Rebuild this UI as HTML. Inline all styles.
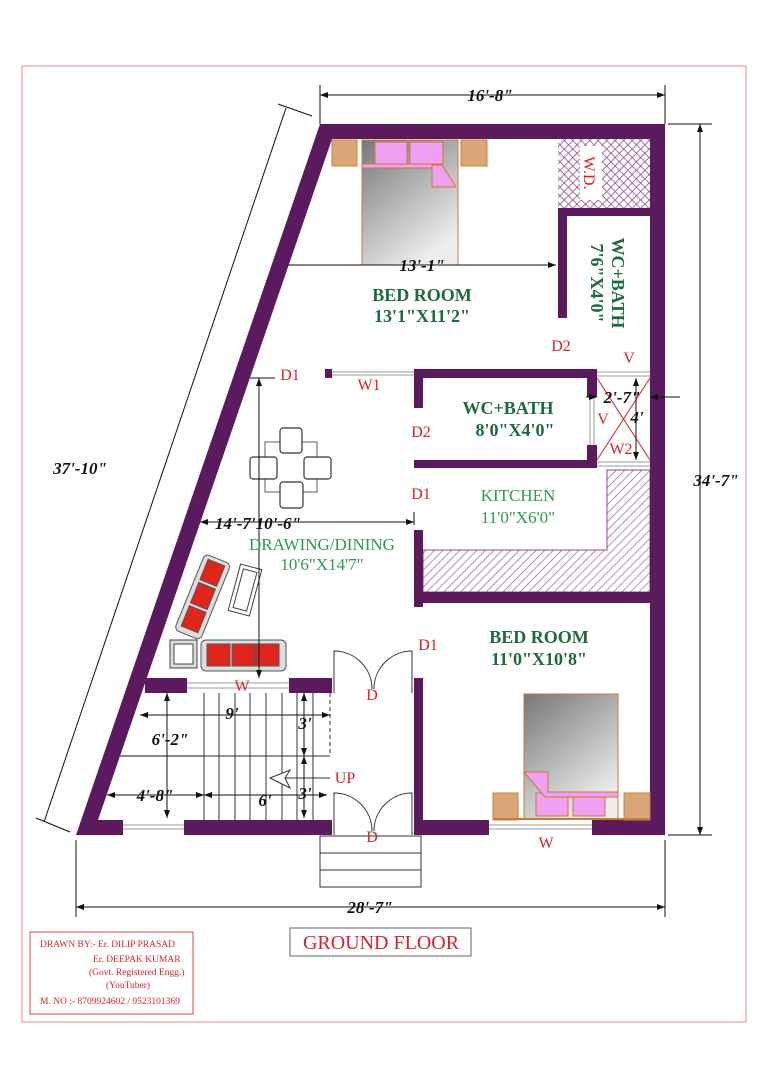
<!DOCTYPE html>
<html><head><meta charset="utf-8"><style>
html,body{margin:0;padding:0;background:#fff;}
svg{display:block;}
text{font-family:"Liberation Serif",serif;}
.dim{font-weight:bold;font-style:italic;font-size:17px;fill:#111;}
.red{fill:#d8232a;font-size:16px;}
.gb{fill:#1d6b3c;font-weight:bold;font-size:18px;}
.gl{fill:#2e9a50;font-size:17px;}
</style></head><body>
<svg width="768" height="1087" viewBox="0 0 768 1087" xmlns="http://www.w3.org/2000/svg">
<defs>
<pattern id="hat" width="6" height="6" patternUnits="userSpaceOnUse" patternTransform="rotate(45)"><rect width="6" height="6" fill="#fff"/><line x1="0" y1="0" x2="0" y2="6" stroke="#8a4a8c" stroke-width="1.2"/></pattern>
<pattern id="xh" width="6" height="6" patternUnits="userSpaceOnUse" patternTransform="rotate(45)"><rect width="6" height="6" fill="#fff"/><line x1="0" y1="0" x2="0" y2="6" stroke="#8a4a8c" stroke-width="1.5"/><line x1="0" y1="0" x2="6" y2="0" stroke="#8a4a8c" stroke-width="1.5"/></pattern>
<linearGradient id="bed" x1="0" y1="0" x2="0.6" y2="1"><stop offset="0" stop-color="#777"/><stop offset="1" stop-color="#eee"/></linearGradient>
<marker id="ar" markerWidth="8" markerHeight="6" refX="8" refY="3" orient="auto"><path d="M0,0 L8,3 L0,6 z" fill="#111"/></marker>
<marker id="al" markerWidth="8" markerHeight="6" refX="0" refY="3" orient="auto"><path d="M8,0 L0,3 L8,6 z" fill="#111"/></marker>
</defs>
<rect x="22" y="66" width="724" height="956" fill="none" stroke="#e58a8a" stroke-width="1"/>

<g stroke="#111" stroke-width="1" fill="none">
<line x1="320" y1="95" x2="665" y2="95" marker-start="url(#al)" marker-end="url(#ar)"/>
<line x1="320" y1="85" x2="320" y2="124"/><line x1="665" y1="85" x2="665" y2="124"/>
<line x1="700" y1="124" x2="700" y2="835" marker-start="url(#al)" marker-end="url(#ar)"/>
<line x1="668" y1="124" x2="712" y2="124"/><line x1="668" y1="835" x2="712" y2="835"/>
<line x1="76" y1="907" x2="665" y2="907" marker-start="url(#al)" marker-end="url(#ar)"/>
<line x1="76" y1="840" x2="76" y2="917"/><line x1="665" y1="840" x2="665" y2="917"/>
<line x1="286" y1="108" x2="44" y2="822"/>
<line x1="278" y1="104" x2="312" y2="116"/><line x1="36" y1="818" x2="70" y2="832"/>
</g>
<text class="dim" x="490" y="101" text-anchor="middle">16'-8"</text>
<text class="dim" x="716" y="486" text-anchor="middle">34'-7"</text>
<text class="dim" x="370" y="913" text-anchor="middle">28'-7"</text>
<text class="dim" x="80" y="474" text-anchor="middle">37'-10"</text>

<rect x="558" y="139" width="92" height="69" fill="url(#xh)"/>
<rect x="580" y="146" width="22" height="54" fill="#fff"/>
<text class="red" font-size="17" transform="translate(584,173) rotate(90)" text-anchor="middle">W.D.</text>
<path d="M607,470 H650 V592 H423 V550 H607 Z" fill="url(#hat)" stroke="#8a4a8c" stroke-width="1"/>

<g fill="#5b1a5e">
<path fill-rule="evenodd" d="M320,124 H665 V835 H76 Z M332,139 H650 V820 H98 Z"/>
<rect x="558" y="208" width="92" height="8"/>
<rect x="558" y="208" width="9" height="110"/>
<rect x="414" y="369" width="183" height="9"/>
<rect x="414" y="369" width="9" height="39"/>
<rect x="587" y="369" width="10" height="28"/>
<rect x="587" y="445" width="10" height="23"/>
<rect x="414" y="460" width="183" height="8"/>
<rect x="325" y="369" width="7" height="9"/>
<rect x="414" y="530" width="9" height="77"/>
<rect x="414" y="592" width="236" height="11"/>
<rect x="414" y="678" width="9" height="150"/>
<rect x="145" y="678" width="187" height="15"/>
</g>
<g fill="#fff">
<rect x="332" y="818" width="82" height="19"/>
<rect x="123" y="819" width="61" height="17"/>
<rect x="489" y="819" width="103" height="17"/>
<rect x="187" y="677" width="102" height="17"/>
<rect x="597" y="368" width="52" height="11"/>
<rect x="597" y="459" width="52" height="10"/>
<rect x="332" y="369" width="82" height="9"/>
<rect x="586" y="397" width="12" height="48"/>
</g>
<g stroke="#999" stroke-width="1">
<line x1="123" y1="825" x2="184" y2="825"/><line x1="123" y1="829" x2="184" y2="829"/>
<line x1="489" y1="825" x2="592" y2="825"/><line x1="489" y1="829" x2="592" y2="829"/>
<line x1="187" y1="683" x2="289" y2="683"/><line x1="187" y1="688" x2="289" y2="688"/>
<line x1="597" y1="372" x2="650" y2="372"/><line x1="597" y1="376" x2="650" y2="376"/>
<line x1="597" y1="462" x2="650" y2="462"/><line x1="597" y1="466" x2="650" y2="466"/>
<line x1="332" y1="372" x2="414" y2="372"/><line x1="332" y1="375" x2="414" y2="375"/>
<line x1="590" y1="397" x2="590" y2="445"/><line x1="594" y1="397" x2="594" y2="445"/>
</g>
<g stroke="#d8232a" stroke-width="1"><line x1="597" y1="378" x2="650" y2="460"/><line x1="650" y1="378" x2="597" y2="460"/></g>

<rect x="332" y="140" width="25" height="26" fill="#d9a676" stroke="#c88040"/>
<rect x="461" y="140" width="26" height="26" fill="#d9a676" stroke="#c88040"/>
<rect x="362" y="140" width="96" height="125" fill="url(#bed)" stroke="#c87a3a"/>
<rect x="375" y="142" width="32" height="22" fill="#f0a0f0" stroke="#c87a3a"/>
<rect x="410" y="142" width="33" height="22" fill="#f0a0f0" stroke="#c87a3a"/>
<rect x="362" y="164" width="70" height="4" fill="#f0a0f0" stroke="#c87a3a"/>
<path d="M432,165 H442 L456,187 H432 Z" fill="#f0a0f0" stroke="#c87a3a"/>
<rect x="493" y="793" width="25" height="27" fill="#d9a676" stroke="#c88040"/>
<rect x="624" y="793" width="26" height="27" fill="#d9a676" stroke="#c88040"/>
<rect x="524" y="694" width="94" height="125" fill="url(#bed)" stroke="#c87a3a"/>
<rect x="536" y="793" width="32" height="23" fill="#f0a0f0" stroke="#c87a3a"/>
<rect x="573" y="793" width="32" height="23" fill="#f0a0f0" stroke="#c87a3a"/>
<path d="M524,772 H548 V792 H618 V797 H545 Z" fill="#f0a0f0" stroke="#c87a3a"/>
<line x1="493" y1="819" x2="650" y2="819" stroke="#c87a3a" stroke-width="2"/>

<g fill="#fff" stroke="#333" stroke-width="1.2">
<rect x="265" y="442" width="52" height="50" stroke="#777"/>
<rect x="280" y="428" width="22" height="25" rx="3"/>
<rect x="250" y="457" width="27" height="22" rx="3"/>
<rect x="304" y="457" width="27" height="22" rx="3"/>
<rect x="280" y="482" width="23" height="26" rx="3"/>
</g>
<g transform="translate(203,596) rotate(22)">
<rect x="-14" y="-40" width="28" height="82" rx="5" fill="#ddd" stroke="#555"/>
<rect x="-9" y="-36" width="18" height="22" fill="#e0251c" stroke="#555"/>
<rect x="-9" y="-11" width="18" height="22" fill="#e0251c" stroke="#555"/>
<rect x="-9" y="14" width="18" height="22" fill="#e0251c" stroke="#555"/>
</g>
<g transform="translate(245,590) rotate(15)"><rect x="-11" y="-24" width="22" height="48" fill="#fff" stroke="#444"/><rect x="-7" y="-20" width="14" height="40" fill="#fff" stroke="#444"/></g>
<rect x="170" y="640" width="27" height="28" fill="#ddd" stroke="#444"/><rect x="174" y="644" width="19" height="20" fill="#fff" stroke="#444"/>
<rect x="201" y="640" width="85" height="31" rx="5" fill="#ddd" stroke="#555"/>
<rect x="207" y="644" width="23" height="22" fill="#e0251c" stroke="#555"/>
<rect x="232" y="644" width="23" height="22" fill="#e0251c" stroke="#555"/>
<rect x="256" y="644" width="23" height="22" fill="#e0251c" stroke="#555"/>

<g stroke="#333" stroke-width="1">
<line x1="204" y1="756" x2="330" y2="756"/>
<line x1="204" y1="693" x2="204" y2="820"/>
<line x1="219" y1="693" x2="219" y2="820"/><line x1="235" y1="693" x2="235" y2="820"/>
<line x1="250" y1="693" x2="250" y2="820"/><line x1="266" y1="693" x2="266" y2="820"/>
<line x1="282" y1="693" x2="282" y2="820"/><line x1="297" y1="693" x2="297" y2="820"/>
<line x1="313" y1="693" x2="313" y2="820"/>
<line x1="330" y1="693" x2="330" y2="756" stroke-dasharray="4,3"/>
<path d="M270,778 L290,770 L285,778 L290,788 Z" fill="#fff"/>
<line x1="285" y1="778" x2="330" y2="778"/>
</g>
<g stroke="#111" stroke-width="1" fill="none">
<line x1="287" y1="265" x2="556" y2="265" marker-end="url(#ar)"/>
<line x1="259" y1="378" x2="259" y2="678" marker-start="url(#al)" marker-end="url(#ar)"/>
<line x1="250" y1="378" x2="275" y2="378"/>
<line x1="200" y1="522" x2="414" y2="522" marker-start="url(#al)" marker-end="url(#ar)"/>
<line x1="414" y1="512" x2="414" y2="525"/>
<line x1="140" y1="715" x2="330" y2="715" marker-start="url(#al)" marker-end="url(#ar)"/>
<line x1="167" y1="693" x2="167" y2="818" marker-start="url(#al)" marker-end="url(#ar)"/>
<line x1="120" y1="756" x2="204" y2="756"/>
<line x1="107" y1="795" x2="204" y2="795" marker-start="url(#al)" marker-end="url(#ar)"/>
<line x1="204" y1="795" x2="327" y2="795" marker-start="url(#al)" marker-end="url(#ar)"/>
<line x1="304" y1="693" x2="304" y2="756" marker-start="url(#al)" marker-end="url(#ar)"/>
<line x1="304" y1="756" x2="304" y2="818" marker-start="url(#al)" marker-end="url(#ar)"/>
<line x1="636" y1="378" x2="636" y2="460" marker-start="url(#al)" marker-end="url(#ar)"/>
<line x1="586" y1="397" x2="597" y2="397" marker-end="url(#ar)"/>
<line x1="680" y1="397" x2="650" y2="397" marker-end="url(#ar)"/>
</g>
<text class="dim" x="422" y="271" text-anchor="middle">13'-1"</text>
<text class="dim" x="258" y="529" text-anchor="middle">14'-7'10'-6"</text>
<text class="dim" x="232" y="719" text-anchor="middle">9'</text>
<text class="dim" x="305" y="729" text-anchor="middle">3'</text>
<text class="dim" x="170" y="745" text-anchor="middle">6'-2"</text>
<text class="dim" x="155" y="801" text-anchor="middle">4'-8"</text>
<text class="dim" x="265" y="806" text-anchor="middle">6'</text>
<text class="dim" x="305" y="799" text-anchor="middle">3'</text>
<text class="dim" x="622" y="403" text-anchor="middle">2'-7"</text>
<text class="dim" x="637" y="423" text-anchor="middle">4'</text>

<g stroke="#333" stroke-width="1" fill="none">
<path d="M334,693 V651 A38,38 0 0 1 372,689"/>
<path d="M412,693 V651 A38,38 0 0 0 374,689"/>
<path d="M334,835 V793 A38,38 0 0 1 372,831"/>
<path d="M412,835 V793 A38,38 0 0 0 374,831"/>
<rect x="320" y="836" width="101" height="51"/>
<line x1="320" y1="853" x2="421" y2="853"/><line x1="320" y1="870" x2="421" y2="870"/>
</g>

<text class="gb" x="422" y="301" text-anchor="middle">BED ROOM</text>
<text class="gb" x="422" y="322" text-anchor="middle">13'1"X11'2"</text>
<text class="gb" transform="translate(612,283) rotate(90)" text-anchor="middle" fill="#2a9a4a">WC+BATH</text>
<text class="gb" transform="translate(591,283) rotate(90)" text-anchor="middle" fill="#2a9a4a">7'6"X4'0"</text>
<text class="red" x="561" y="351" text-anchor="middle" font-size="17">D2</text>
<text class="red" x="629" y="363" text-anchor="middle">V</text>
<text class="red" x="290" y="380" text-anchor="middle" font-size="17">D1</text>
<text class="red" x="369" y="390" text-anchor="middle" font-size="13">W1</text>
<text class="gb" x="508" y="414" text-anchor="middle" fill="#2a9a4a">WC+BATH</text>
<text class="gb" x="515" y="436" text-anchor="middle" fill="#2a9a4a">8'0"X4'0"</text>
<text class="red" x="421" y="437" text-anchor="middle" font-size="17">D2</text>
<text class="red" x="603" y="424" text-anchor="middle" font-size="14">V</text>
<text class="red" x="621" y="454" text-anchor="middle" font-size="12">W2</text>
<text class="red" x="421" y="499" text-anchor="middle" font-size="17">D1</text>
<text class="gl" x="518" y="501" text-anchor="middle">KITCHEN</text>
<text class="gl" x="518" y="523" text-anchor="middle">11'0"X6'0"</text>
<text class="gl" x="322" y="550" text-anchor="middle">DRAWING/DINING</text>
<text class="gl" x="322" y="570" text-anchor="middle">10'6"X14'7"</text>
<text class="gb" x="539" y="643" text-anchor="middle">BED ROOM</text>
<text class="gb" x="539" y="665" text-anchor="middle">11'0"X10'8"</text>
<text class="red" x="428" y="650" text-anchor="middle" font-size="17">D1</text>
<text class="red" x="372" y="700" text-anchor="middle" font-size="17">D</text>
<text class="red" x="372" y="842" text-anchor="middle" font-size="17">D</text>
<text class="red" x="345" y="783" text-anchor="middle" font-size="17">UP</text>
<text class="red" x="242" y="691" text-anchor="middle" font-size="12">W</text>
<text class="red" x="546" y="848" text-anchor="middle" font-size="13">W</text>

<rect x="290" y="928" width="181" height="28" fill="#fff" stroke="#666"/>
<text x="381" y="949" text-anchor="middle" fill="#d8232a" font-size="20">GROUND FLOOR</text>
<rect x="30" y="932" width="163" height="82" fill="#fff" stroke="#d84a4a"/>
<g fill="#d8232a" font-size="9.5">
<text x="40" y="947">DRAWN BY:-  Er. DILIP PRASAD</text>
<text x="93" y="962">Er. DEEPAK KUMAR</text>
<text x="89" y="975">(Govt. Registered Engg.)</text>
<text x="106" y="988">(YouTuber)</text>
<text x="40" y="1004">M. NO :- 8709924602 / 9523101369</text>
</g>
</svg>
</body></html>
